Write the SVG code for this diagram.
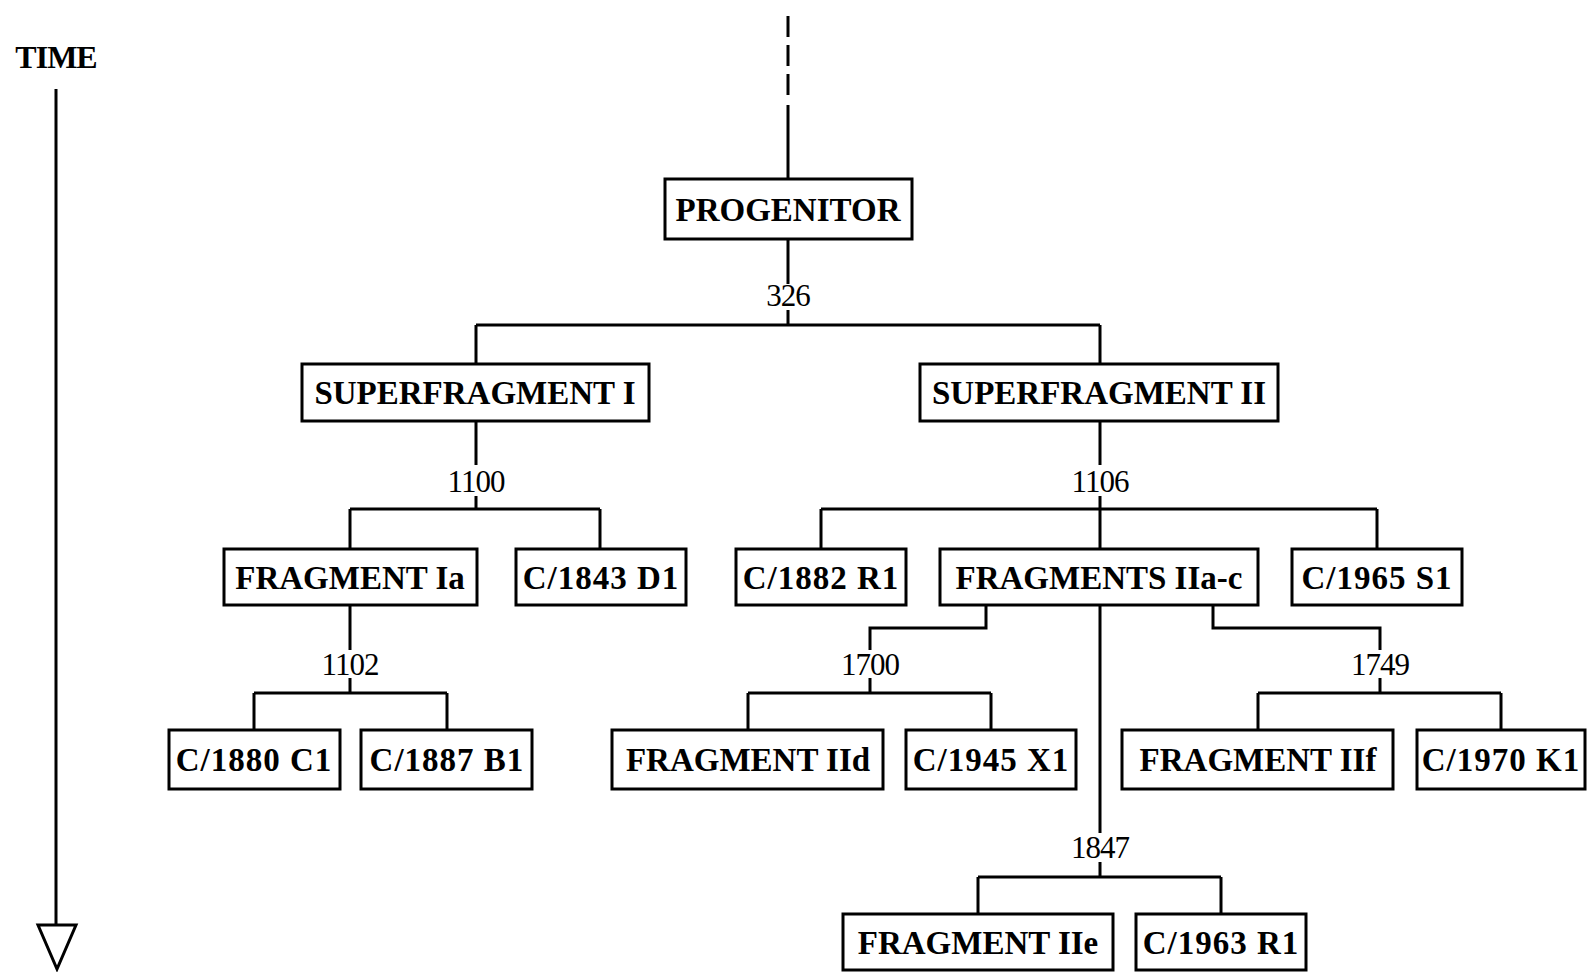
<svg xmlns="http://www.w3.org/2000/svg" width="1587" height="972" viewBox="0 0 1587 972">
<style>
.box{fill:#fff;stroke:#000;stroke-width:3}
.lbl{font-family:"Liberation Serif",serif;font-weight:bold;font-size:33px;text-anchor:middle;fill:#000}
.cat{letter-spacing:1px}
.num{font-family:"Liberation Serif",serif;font-size:31px;text-anchor:middle;fill:#000;letter-spacing:-1px}
.ln{fill:none;stroke:#000;stroke-width:3}
</style>
<rect width="1587" height="972" fill="#fff"/>
<g id="time-axis">
<text x="56" y="68" class="lbl" style="font-size:32px;letter-spacing:-1px">TIME</text>
<path class="ln" d="M56 89 V925"/>
<polygon points="38,925 76,925 57,969" fill="#fff" stroke="#000" stroke-width="3"/>
</g>
<g id="connectors">
<path class="ln" d="M788 16 V100" stroke-dasharray="21 8"/>
<path class="ln" d="M788 105 V179"/>
<path class="ln" d="M788 239 V284 M788 310 V325 M476 325 H1100 M476 325 V364 M1100 325 V364"/>
<path class="ln" d="M476 421 V465 M476 496 V509 M350 509 H600 M350 509 V549 M600 509 V549"/>
<path class="ln" d="M350 605 V650 M350 678 V693 M254 693 H447 M254 693 V730 M447 693 V730"/>
<path class="ln" d="M1100 421 V465 M1100 496 V549 M821 509 H1377 M821 509 V549 M1377 509 V549"/>
<path class="ln" d="M986 605 V628 H870 V650 M870 678 V693 M748 693 H991 M748 693 V730 M991 693 V730"/>
<path class="ln" d="M1213 605 V628 H1380 V650 M1380 678 V693 M1258 693 H1501 M1258 693 V730 M1501 693 V730"/>
<path class="ln" d="M1100 605 V833 M1100 862 V877 M978 877 H1221 M978 877 V914 M1221 877 V914"/>
<text x="788" y="306" class="num">326</text>
<text x="476" y="492" class="num">1100</text>
<text x="1100" y="492" class="num">1106</text>
<text x="350" y="675" class="num">1102</text>
<text x="870" y="675" class="num">1700</text>
<text x="1380" y="675" class="num">1749</text>
<text x="1100" y="858" class="num">1847</text>
</g>
<g id="progenitor"><rect class="box" x="665" y="179" width="247" height="60"/><text class="lbl" x="788" y="221">PROGENITOR</text></g>
<g id="superfragment-1"><rect class="box" x="302" y="364" width="347" height="57"/><text class="lbl" x="475" y="404">SUPERFRAGMENT I</text></g>
<g id="superfragment-2"><rect class="box" x="920" y="364" width="358" height="57"/><text class="lbl" x="1099" y="404">SUPERFRAGMENT II</text></g>
<g id="fragment-ia"><rect class="box" x="224" y="549" width="253" height="56"/><text class="lbl" x="350" y="589">FRAGMENT Ia</text></g>
<g id="c1843d1"><rect class="box" x="516" y="549" width="170" height="56"/><text class="lbl cat" x="601" y="589">C/1843 D1</text></g>
<g id="c1882r1"><rect class="box" x="736" y="549" width="170" height="56"/><text class="lbl cat" x="821" y="589">C/1882 R1</text></g>
<g id="fragments-iia-c"><rect class="box" x="940" y="549" width="318" height="56"/><text class="lbl" x="1099" y="589">FRAGMENTS IIa-c</text></g>
<g id="c1965s1"><rect class="box" x="1292" y="549" width="170" height="56"/><text class="lbl cat" x="1377" y="589">C/1965 S1</text></g>
<g id="c1880c1"><rect class="box" x="169" y="730" width="171" height="59"/><text class="lbl cat" x="254" y="771">C/1880 C1</text></g>
<g id="c1887b1"><rect class="box" x="361" y="730" width="171" height="59"/><text class="lbl cat" x="447" y="771">C/1887 B1</text></g>
<g id="fragment-iid"><rect class="box" x="612" y="730" width="271" height="59"/><text class="lbl" x="748" y="771">FRAGMENT IId</text></g>
<g id="c1945x1"><rect class="box" x="906" y="730" width="170" height="59"/><text class="lbl cat" x="991" y="771">C/1945 X1</text></g>
<g id="fragment-iif"><rect class="box" x="1122" y="730" width="271" height="59"/><text class="lbl" x="1258" y="771">FRAGMENT IIf</text></g>
<g id="c1970k1"><rect class="box" x="1417" y="730" width="168" height="59"/><text class="lbl cat" x="1501" y="771">C/1970 K1</text></g>
<g id="fragment-iie"><rect class="box" x="843" y="914" width="270" height="56"/><text class="lbl" x="978" y="954">FRAGMENT IIe</text></g>
<g id="c1963r1"><rect class="box" x="1136" y="914" width="170" height="56"/><text class="lbl cat" x="1221" y="954">C/1963 R1</text></g>
</svg>
